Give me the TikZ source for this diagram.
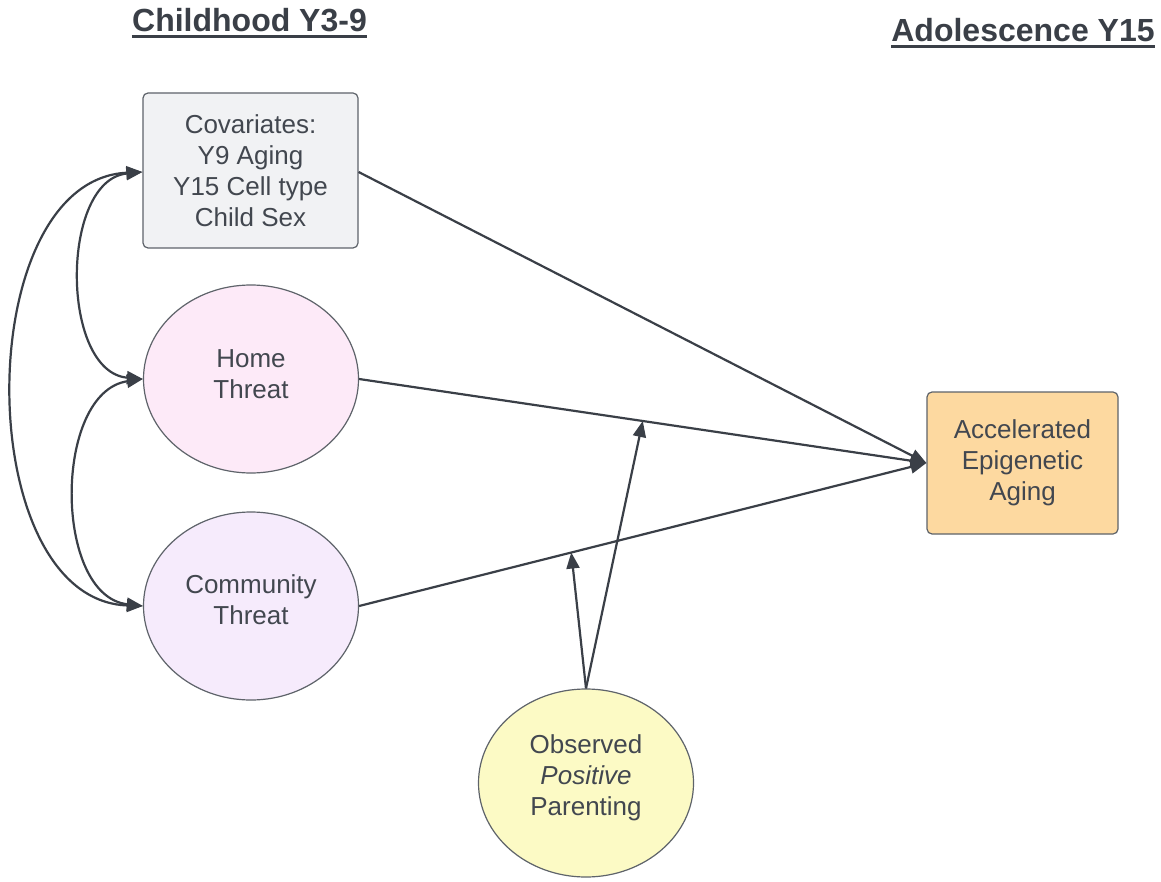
\documentclass[tikz,border=0pt]{standalone}
\usepackage{fontspec}
\setmainfont{Liberation Sans}
\usetikzlibrary{arrows.meta,shapes.geometric}
\definecolor{ink}{HTML}{3A3F47}
\definecolor{txt}{HTML}{42474F}
\definecolor{edge}{HTML}{5E636A}
\definecolor{covfill}{HTML}{F1F2F4}
\definecolor{homefill}{HTML}{FDEAF8}
\definecolor{commfill}{HTML}{F6EBFC}
\definecolor{parfill}{HTML}{FCFAC5}
\definecolor{accfill}{HTML}{FDD9A0}
\begin{document}
\begin{tikzpicture}[x=1pt,y=-1pt,
  box/.style={draw=edge,line width=1.2pt,rounded corners=5pt,inner sep=0pt,align=center,
    font=\fontsize{26}{31}\selectfont,text=txt},
  oval/.style={ellipse,draw=edge,line width=1.2pt,inner sep=0pt,align=center,
    font=\fontsize{26}{31}\selectfont,text=txt,minimum width=215pt,minimum height=188pt},
  conn/.style={draw=ink,line width=2.2pt,-{Triangle[length=16pt,width=13pt]}},
  biconn/.style={draw=ink,line width=2.2pt,{Triangle[length=16pt,width=13pt]}-{Triangle[length=16pt,width=13pt]}},
  title/.style={font=\fontsize{32}{38}\selectfont\bfseries,text=ink,anchor=base,inner sep=0pt}]
\path[use as bounding box,fill=white] (0,0) rectangle (1161,882);

% titles
\node[title] (t1) at (249.5,32) {Childhood Y3-9};
\node[title] (t2) at (1023,42) {Adolescence Y15};
\draw[ink,line width=3pt] ([yshift=-5pt]t1.base west) -- ([yshift=-5pt]t1.base east);
\draw[ink,line width=3pt] ([yshift=-5pt]t2.base west) -- ([yshift=-5pt]t2.base east);

% nodes
\node[box,fill=covfill,minimum width=215pt,minimum height=155pt] (cov) at (250.5,170.5)
  {Covariates:\\Y9 Aging\\Y15 Cell type\\Child Sex};
\node[oval,fill=homefill] (home) at (251,379) {};
\node[font=\fontsize{26}{31}\selectfont,text=txt,align=center] (homet) at (251,374) {Home\\Threat};
\node[oval,fill=commfill] (comm) at (251,606) {};
\node[font=\fontsize{26}{31}\selectfont,text=txt,align=center] (commt) at (251,600) {Community\\Threat};
\node[oval,fill=parfill] (par) at (586,783) {};
\node[font=\fontsize{26}{31}\selectfont,text=txt,align=center] (part) at (586,778) {Observed\\\textit{Positive}\\Parenting};
\node[box,fill=accfill,minimum width=191pt,minimum height=142pt] (acc) at (1022.5,463)
  {Accelerated\\Epigenetic\\Aging};

% direct paths
\draw[conn] (cov.east |- 0,172) -- (acc.west);
\draw[conn] (home.east) -- (acc.west) coordinate[pos=0.5] (m1);
\draw[conn] (comm.east) -- (acc.west) coordinate[pos=0.374] (m2);

% moderation
\draw[conn] (par.north) -- (m1);
\draw[conn] (par.north) -- (m2);

% covariances
\draw[biconn] (cov.west |- 0,172) .. controls (60,180) and (60,372) .. (home.west);
\draw[biconn] (home.west) .. controls (53,392) and (53,596) .. (comm.west);
\draw[biconn] (cov.west |- 0,172) .. controls (-30,180) and (-30,600) .. (comm.west);
\end{tikzpicture}
\end{document}
